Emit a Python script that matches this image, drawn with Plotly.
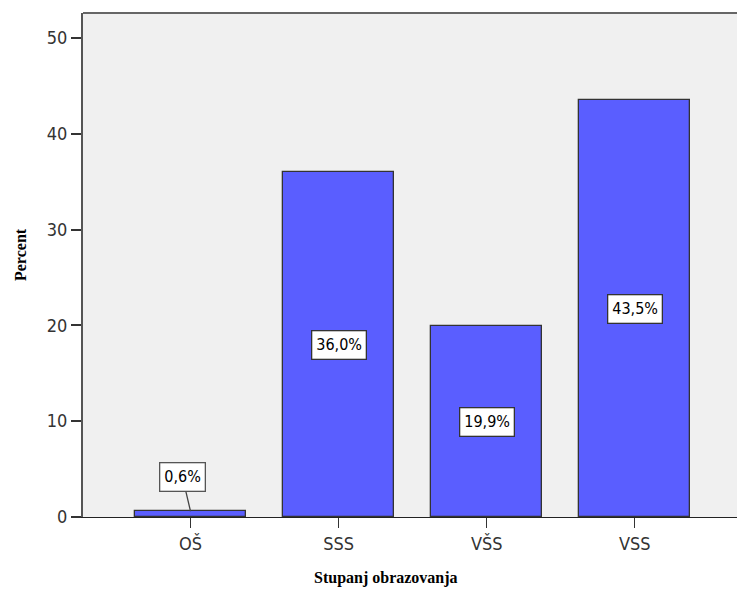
import plotly.graph_objects as go

# Education level distribution (percent of respondents)
categories = ["OŠ", "SSS", "VŠS", "VSS"]
percent = [0.6, 36.0, 19.9, 43.5]
value_labels = ["0,6%", "36,0%", "19,9%", "43,5%"]
y_ticks = [0, 10, 20, 30, 40, 50]

x_pos = list(range(len(categories)))

fig = go.Figure()
fig.add_trace(go.Bar(
    x=x_pos,
    y=percent,
    width=0.75,
    marker=dict(color="#5a5eff", line=dict(color="#333333", width=1.3)),
    hoverinfo="skip",
))

label_font = dict(family="DejaVu Sans Condensed, DejaVu Sans", size=16, color="#000000")
for xi, v, txt in zip(x_pos, percent, value_labels):
    if v < 5:
        # small bar: label sits above with a leader line
        fig.add_annotation(
            x=xi, y=v, xref="x", yref="y", text=txt,
            showarrow=True, arrowhead=0, arrowwidth=1.3, arrowcolor="#444444",
            ax=-8, ay=-34, font=label_font,
            bgcolor="#ffffff", bordercolor="#555555", borderwidth=1.3, borderpad=4,
        )
    else:
        fig.add_annotation(
            x=xi, y=v / 2, xref="x", yref="y", text=txt, showarrow=False,
            font=label_font,
            bgcolor="#ffffff", bordercolor="#333333", borderwidth=1.3, borderpad=4,
        )

title_font = dict(family="Liberation Serif", size=16, color="#000000")
# axis titles
fig.add_annotation(
    text="<b>Percent</b>", xref="paper", yref="paper", x=0, y=0.5,
    xanchor="center", yanchor="middle", xshift=-63, yshift=10, textangle=-90,
    showarrow=False, font=title_font,
)
fig.add_annotation(
    text="<b>Stupanj obrazovanja</b>", xref="paper", yref="paper", x=0.463, y=0,
    xanchor="center", yanchor="middle", yshift=-61, showarrow=False,
    font=title_font,
)

# top frame line
fig.add_shape(type="line", xref="paper", yref="paper", x0=0, x1=1, y0=1, y1=1,
              line=dict(color="#666666", width=2))

tick_font = dict(family="DejaVu Sans Condensed, DejaVu Sans", size=18, color="#333333")
fig.update_layout(
    width=737, height=592,
    margin=dict(l=83, r=0, t=13, b=75),
    paper_bgcolor="#ffffff",
    plot_bgcolor="#f0f0f0",
    showlegend=False,
    bargap=0,
    xaxis=dict(
        range=[-0.726, 3.69],
        tickmode="array", tickvals=x_pos, ticktext=categories,
        ticks="outside", ticklen=10, tickwidth=1.2, tickcolor="#333333",
        showline=True, linecolor="#222222", linewidth=1.2,
        showgrid=False, zeroline=False,
        tickfont=tick_font,
    ),
    yaxis=dict(
        range=[0, 52.6],
        tickmode="array", tickvals=y_ticks,
        ticks="outside", ticklen=10, tickwidth=1.5, tickcolor="#333333",
        showline=True, linecolor="#555555", linewidth=2,
        showgrid=False, zeroline=False,
        tickfont=tick_font,
    ),
)

fig.write_html("out.html")
